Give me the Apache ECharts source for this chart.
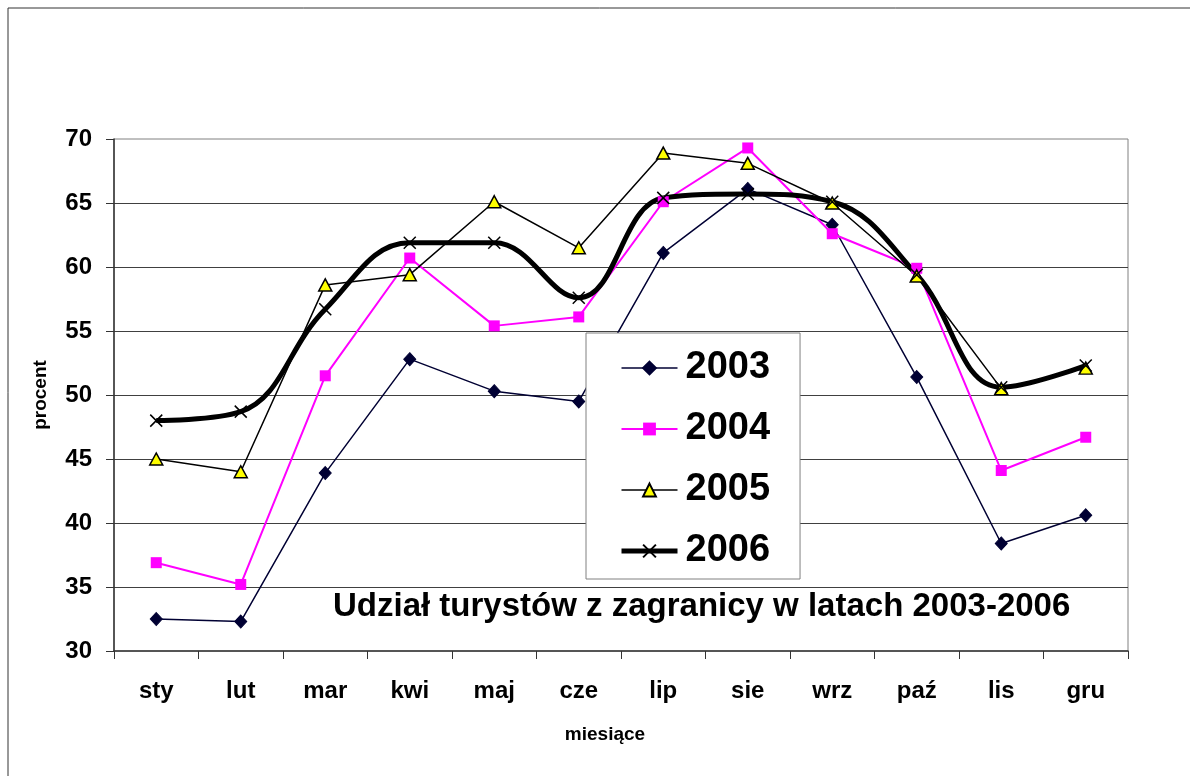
<html>
<head>
    <meta charset="utf-8">
    <script src="https://cdn.jsdelivr.net/npm/echarts@6/dist/echarts.min.js"></script>
    <style>
        html, body { margin: 0; padding: 0; background: #fff; }
        #main { width: 1190px; height: 776px; }
    </style>
</head>
<body>
    <div id="main"></div>
    <script>
        var months = ['sty', 'lut', 'mar', 'kwi', 'maj', 'cze', 'lip', 'sie', 'wrz', 'paź', 'lis', 'gru'];
        var years = ['2003', '2004', '2005', '2006'];
        var y2003 = [32.5, 32.3, 43.9, 52.8, 50.3, 49.5, 61.1, 66.1, 63.3, 51.4, 38.4, 40.6];
        var y2004 = [36.9, 35.2, 51.5, 60.7, 55.4, 56.1, 65.1, 69.3, 62.6, 59.9, 44.1, 46.7];
        var y2005 = [45.0, 44.0, 58.6, 59.4, 65.1, 61.5, 68.9, 68.1, 65.0, 59.3, 50.5, 52.1];
        var y2006 = [48.0, 48.7, 56.7, 61.9, 61.9, 57.6, 65.4, 65.7, 65.1, 59.4, 50.6, 52.3];
        var chartTitle = 'Udział turystów z zagranicy w latach 2003-2006';

        var font = 'Liberation Sans, Arial, sans-serif';
        var cross = 'path://M0,0L10,10M10,0L0,10';

        var myChart = echarts.init(document.getElementById('main'));

        // legend line widths follow the series (legend caps them otherwise)
        var legendWidths = [1.5, 2, 1.5, 5];

        var option = {
            backgroundColor: '#fff',
            animation: false,
            textStyle: { fontFamily: font },
            graphic: [{
                type: 'rect',
                shape: { x: 8, y: 8, width: 1200, height: 800 },
                style: { fill: 'none', stroke: '#333', lineWidth: 1 },
                silent: true
            }],
            title: {
                text: chartTitle,
                left: 328,
                top: 585,
                textStyle: { fontSize: 33, fontWeight: 'bold', color: '#000', fontFamily: font }
            },
            grid: {
                left: 114,
                top: 139,
                right: 62,
                bottom: 125,
                show: true,
                borderColor: '#808080',
                borderWidth: 1
            },
            legend: {
                orient: 'vertical',
                left: 586,
                top: 333,
                data: years.map(function (y, i) {
                    return { name: y, lineStyle: { width: legendWidths[i] } };
                }),
                backgroundColor: '#fff',
                borderColor: '#808080',
                borderWidth: 1,
                padding: [16, 30, 9, 33],
                itemWidth: 56,
                itemHeight: 16,
                itemGap: 23,
                textStyle: { fontSize: 38, fontWeight: 'bold', color: '#000', fontFamily: font, padding: [0, 0, 0, 3] }
            },
            xAxis: {
                type: 'category',
                data: months,
                name: 'miesiące',
                nameLocation: 'middle',
                nameGap: 74,
                nameTextStyle: { fontSize: 19, fontWeight: 'bold', color: '#000', padding: [0, 32, 0, 0] },
                axisLine: { lineStyle: { color: '#333', width: 1.5 } },
                axisTick: { show: true, length: 8, lineStyle: { color: '#333' } },
                axisLabel: { fontSize: 24, fontWeight: 'bold', color: '#000', margin: 28 },
                splitLine: { show: false }
            },
            yAxis: {
                type: 'value',
                min: 30,
                max: 70,
                interval: 5,
                name: 'procent',
                nameLocation: 'middle',
                nameGap: 64,
                nameRotate: 90,
                nameTextStyle: { fontSize: 19, fontWeight: 'bold', color: '#000' },
                axisLine: { show: true, lineStyle: { color: '#333', width: 1.5 } },
                axisTick: { show: true, length: 8, lineStyle: { color: '#333' } },
                axisLabel: { fontSize: 24, fontWeight: 'bold', color: '#000', margin: 22 },
                splitLine: { show: true, showMinLine: false, showMaxLine: false, lineStyle: { color: '#404040', width: 1 } }
            },
            series: [
                {
                    name: '2003',
                    type: 'line',
                    data: y2003,
                    symbol: 'diamond',
                    symbolSize: [12, 13],
                    lineStyle: { color: '#000033', width: 1.5 },
                    itemStyle: { color: '#000033', borderColor: '#000033', borderWidth: 1 },
                    z: 3
                },
                {
                    name: '2004',
                    type: 'line',
                    data: y2004,
                    symbol: 'rect',
                    symbolSize: 11,
                    lineStyle: { color: '#ff00ff', width: 2 },
                    itemStyle: { color: '#ff00ff', borderColor: '#ff00ff', borderWidth: 0 },
                    z: 3
                },
                {
                    name: '2005',
                    type: 'line',
                    data: y2005,
                    symbol: 'triangle',
                    symbolSize: [13, 12],
                    lineStyle: { color: '#000', width: 1.5 },
                    itemStyle: { color: '#ffff00', borderColor: '#000', borderWidth: 1.5 },
                    z: 3
                },
                {
                    name: '2006',
                    type: 'line',
                    data: y2006,
                    smooth: 0.4,
                    symbol: cross,
                    symbolSize: 12,
                    lineStyle: { color: '#000', width: 5 },
                    itemStyle: { color: '#000', borderColor: '#000', borderWidth: 1.5 },
                    z: 3
                }
            ]
        };

        myChart.setOption(option);
    </script>
</body>
</html>
